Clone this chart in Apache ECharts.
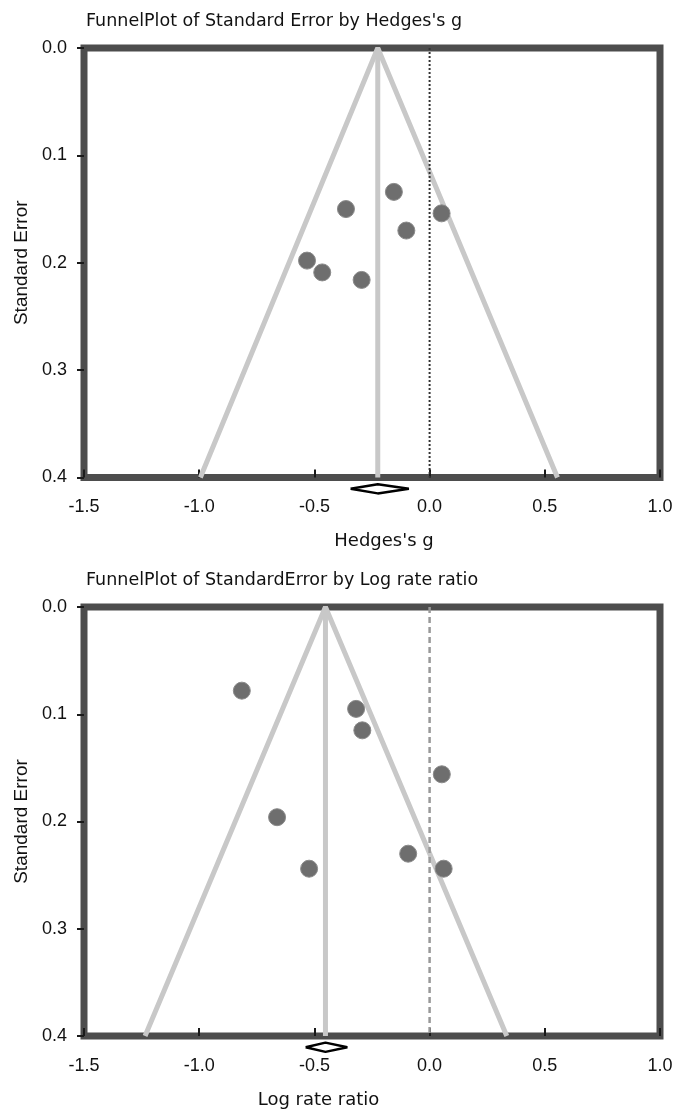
<!DOCTYPE html>
<html>
<head>
<meta charset="utf-8">
<script src="https://cdn.jsdelivr.net/npm/echarts@6/dist/echarts.min.js"></script>
<style>
  html, body { margin: 0; padding: 0; background: #fff; }
  #chart { width: 686px; height: 1110px; }
</style>
</head>
<body>
<div id="chart"></div>
<script>
// tick values
var xTicks = [-1.5, -1.0, -0.5, 0.0, 0.5, 1.0];
var yTicks = [0.0, 0.1, 0.2, 0.3, 0.4];

// top plot: Hedges's g vs standard error
var hedgesG  = [-0.155, -0.363, 0.052, -0.101, -0.532, -0.466, -0.295];
var hedgesSE = [0.134, 0.150, 0.154, 0.170, 0.198, 0.209, 0.216];
var hedgesMean = -0.225;
var hedgesFunnel = [-0.995, 0.555];        // funnel ends at SE 0.4
var hedgesCI = [-0.343, -0.090];           // summary diamond

// bottom plot: log rate ratio vs standard error
var logRR   = [-0.815, -0.319, -0.292, 0.053, -0.662, -0.093, 0.061, -0.523];
var logRRSE = [0.078, 0.095, 0.115, 0.156, 0.196, 0.230, 0.244, 0.244];
var logRRMean = -0.452;
var logRRFunnel = [-1.235, 0.335];
var logRRCI = [-0.538, -0.357];

var seMax = 0.4;
var diamondSE = 0.4105;   // where the diamond sits, just below the axis
var diamondHalf = 0.0043;

var TITLE_FONT = 'DejaVu Sans';
var TICK_FONT = 'Liberation Sans';

function pairs(xs, ys) {
  return xs.map(function (x, i) { return [x, ys[i]]; });
}

function diamond(ci, mean) {
  return [
    [ci[0], diamondSE],
    [mean, diamondSE - diamondHalf],
    [ci[1], diamondSE],
    [mean, diamondSE + diamondHalf],
    [ci[0], diamondSE]
  ];
}

function xAxisFor(idx, name, pad) {
  return {
    gridIndex: idx,
    type: 'value',
    position: 'bottom',
    min: xTicks[0], max: xTicks[xTicks.length - 1], interval: 0.5,
    name: name,
    nameLocation: 'middle',
    nameGap: 55,
    nameTextStyle: { fontFamily: TITLE_FONT, fontSize: 18, color: '#111', padding: pad },
    axisLine: { show: false, onZero: false },
    axisTick: { show: true, inside: true, length: 8, lineStyle: { color: '#1a1a1a', width: 2 } },
    axisLabel: {
      margin: 21, fontFamily: TICK_FONT, fontSize: 18, color: '#111',
      formatter: function (v) { return v.toFixed(1); }
    },
    splitLine: { show: false }
  };
}

function yAxisFor(idx) {
  return {
    gridIndex: idx,
    type: 'value',
    inverse: true,
    min: yTicks[0], max: seMax, interval: 0.1,
    name: 'Standard Error',
    nameLocation: 'middle',
    nameRotate: 90,
    nameGap: 50,
    nameTextStyle: { fontFamily: TICK_FONT, fontSize: 19, color: '#111' },
    axisLine: { show: false, onZero: false },
    axisTick: { show: true, length: 7, lineStyle: { color: '#1a1a1a', width: 2 } },
    axisLabel: {
      margin: 17, fontFamily: TICK_FONT, fontSize: 18, color: '#111',
      formatter: function (v) { return v.toFixed(1); }
    },
    splitLine: { show: false }
  };
}

function seriesFor(idx, xs, ses, mean, funnel, ci, nullStyle) {
  return [
    {
      type: 'line', xAxisIndex: idx, yAxisIndex: idx, symbol: 'none', silent: true,
      data: [[funnel[0], seMax], [mean, 0], [funnel[1], seMax]],
      lineStyle: { color: '#c8c8c8', width: 5 }, z: 2
    },
    {
      type: 'line', xAxisIndex: idx, yAxisIndex: idx, symbol: 'none', silent: true,
      data: [[mean, 0], [mean, seMax]],
      lineStyle: { color: '#c8c8c8', width: 5 }, z: 2
    },
    {
      type: 'line', xAxisIndex: idx, yAxisIndex: idx, symbol: 'none', silent: true,
      data: [[0, 0], [0, seMax]],
      lineStyle: nullStyle, z: 3
    },
    {
      type: 'scatter', xAxisIndex: idx, yAxisIndex: idx,
      symbolSize: 17,
      data: pairs(xs, ses),
      itemStyle: { color: '#6e6e6e', borderColor: '#8a8a8a', borderWidth: 1, opacity: 1 },
      z: 4
    },
    {
      type: 'line', xAxisIndex: idx, yAxisIndex: idx, symbol: 'none', silent: true,
      clip: false,
      data: diamond(ci, mean),
      lineStyle: { color: '#000', width: 2.5 }, z: 5
    }
  ];
}

var chart = echarts.init(document.getElementById('chart'));
chart.setOption({
  backgroundColor: '#fff',
  animation: false,
  title: [
    {
      text: "FunnelPlot of Standard Error by Hedges's g",
      left: 86, top: 12, padding: 0,
      textStyle: { fontFamily: TITLE_FONT, fontSize: 17.5, fontWeight: 'normal', color: '#111' }
    },
    {
      text: 'FunnelPlot of StandardError by Log rate ratio',
      left: 86, top: 571, padding: 0,
      textStyle: { fontFamily: TITLE_FONT, fontSize: 17.5, fontWeight: 'normal', color: '#111' }
    }
  ],
  grid: [
    { left: 84, top: 48, width: 576, height: 429.5, show: true, borderColor: '#4d4d4d', borderWidth: 7, backgroundColor: '#fff' },
    { left: 84, top: 607, width: 576, height: 429.5, show: true, borderColor: '#4d4d4d', borderWidth: 7, backgroundColor: '#fff' }
  ],
  xAxis: [xAxisFor(0, "Hedges's g", [0, 0, 0, 24]), xAxisFor(1, 'Log rate ratio', [0, 107, 0, 0])],
  yAxis: [yAxisFor(0), yAxisFor(1)],
  series: []
    .concat(seriesFor(0, hedgesG, hedgesSE, hedgesMean, hedgesFunnel, hedgesCI,
      { color: '#333', width: 2, type: [2, 2] }))
    .concat(seriesFor(1, logRR, logRRSE, logRRMean, logRRFunnel, logRRCI,
      { color: '#999', width: 2.5, type: [6, 4] }))
});
</script>
</body>
</html>
